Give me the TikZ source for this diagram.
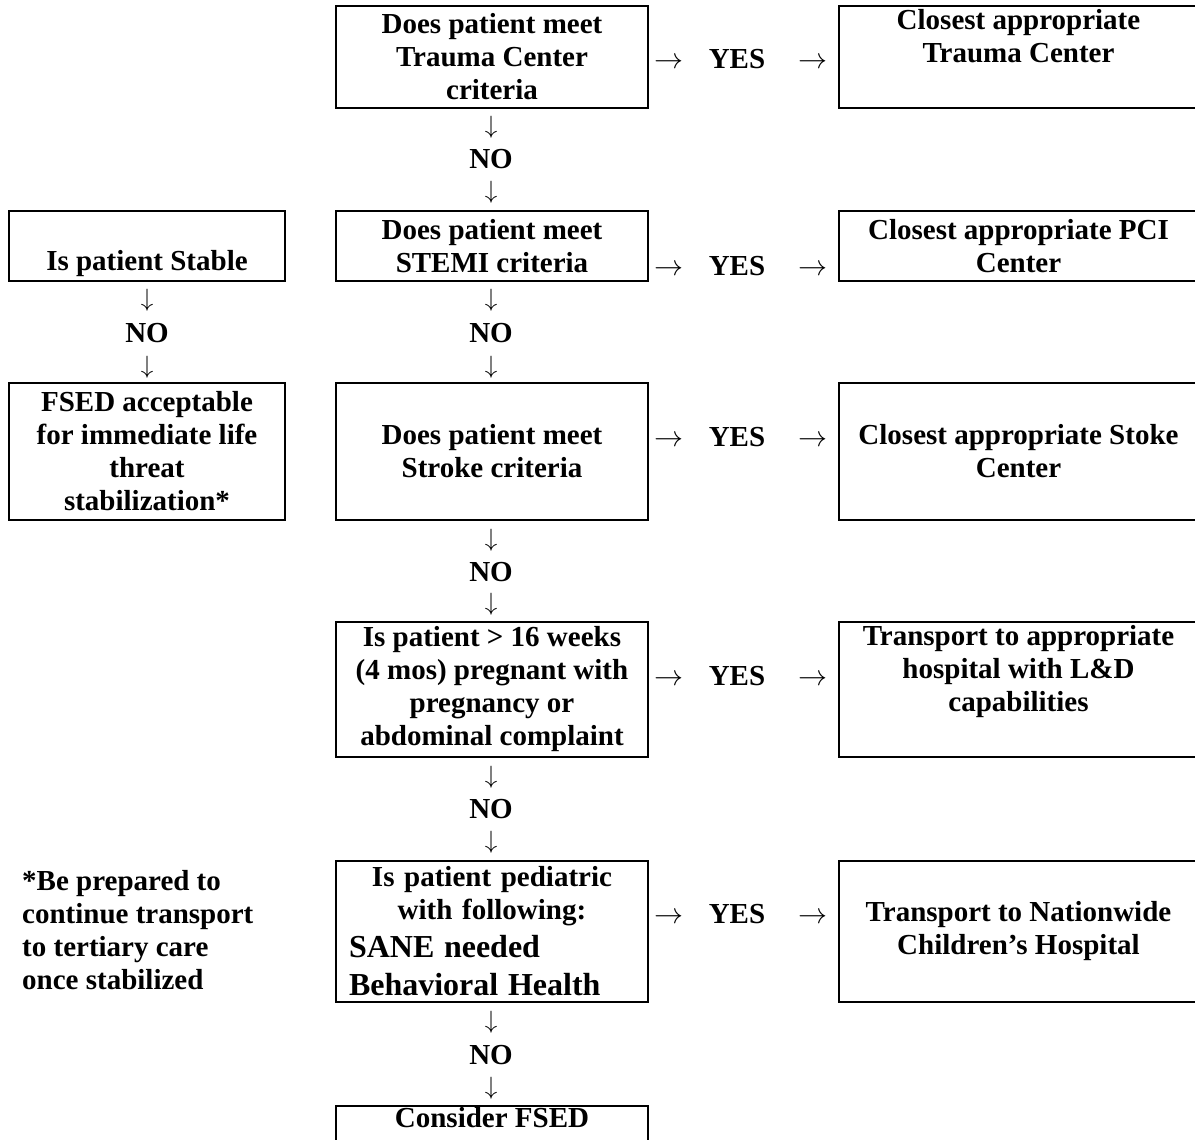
\RequirePackage{fix-cm}
\documentclass[tikz,border=0pt]{standalone}
\usepackage{fontspec}
\setmainfont{Liberation Serif}
\begin{document}
\begin{tikzpicture}[x=1pt,y=-1pt,
  every node/.style={font=\bfseries\fontsize{29}{33}\selectfont, inner sep=0pt},
  box/.style={draw, line width=2.2pt, align=center, rectangle},
  mbox/.style={box, minimum width=312pt},
  rbox/.style={box, minimum width=359pt},
  lbox/.style={box, minimum width=276pt},
  arr/.style={font=\mdseries\fontsize{29}{33}\selectfont, anchor=base},
  darr/.style={font=\mdseries\fontsize{25}{30}\selectfont},
  lbl/.style={anchor=base}
]
\useasboundingbox (0,0) rectangle (1195,1140);

% ---- boxes ----
\node[mbox, minimum height=102pt] (trauma) at (492,57) {Does patient meet\\Trauma Center\\criteria};
\node[rbox, minimum height=102pt] (rtrauma) at (1018.5,57) {Closest appropriate\\Trauma Center\\\strut};

\node[mbox, minimum height=70pt] (stemi) at (492,246) {Does patient meet\\STEMI criteria};
\node[rbox, minimum height=70pt] (rpci) at (1018.5,246) {Closest appropriate PCI\\Center};
\node[lbox, minimum height=70pt] (stable) at (147,246) {\strut\\Is patient Stable};

\node[lbox, minimum height=137pt] (fsed) at (147,451.5) {FSED acceptable\\for immediate life\\threat\\stabilization*};
\node[mbox, minimum height=137pt] (stroke) at (492,451.5) {Does patient meet\\Stroke criteria};
\node[rbox, minimum height=137pt] (rstroke) at (1018.5,451.5) {Closest appropriate Stoke\\Center};

\node[mbox, minimum height=135pt] (preg) at (492,689.5) {Is patient > 16 weeks\\(4 mos) pregnant with\\pregnancy or\\abdominal complaint};
\node[rbox, minimum height=135pt] (rpreg) at (1018.5,689.5) {Transport to appropriate\\hospital with L\&D\\capabilities\\\strut};

\node[mbox, minimum height=141pt, text width=286pt, align=left] (ped) at (492,931.5)
  {{\centering Is patient pediatric\\with following:\par}%
   {\fontsize{32}{38}\selectfont SANE needed\\Behavioral Health\par}};
\node[rbox, minimum height=141pt] (rped) at (1018.5,931.5) {Transport to Nationwide\\Children’s Hospital};

\node[mbox, minimum height=66pt] (consider) at (492,1139) {Consider FSED\\\strut};

% ---- footnote ----
\node[anchor=west, align=left] (note) at (22,930) {*Be prepared to\\continue transport\\to tertiary care\\once stabilized};

% ---- vertical flow (middle column) ----
\foreach \n/\a/\b/\c in {1/127/159/192, 2/300/333/367, 3/540/572/604, 4/777/809/842, 5/1022/1055/1088}{
  \node[darr] (dA\n) at (491,\a) {$\downarrow$};
  \node (no\n) at (491,\b) {NO};
  \node[darr] (dB\n) at (491,\c) {$\downarrow$};
}
% ---- vertical flow (left column) ----
\node[darr] (ldA) at (147,300) {$\downarrow$};
\node (lno) at (147,333) {NO};
\node[darr] (ldB) at (147,367) {$\downarrow$};

% ---- horizontal YES arrows ----
\foreach \n/\y in {1/69, 2/275, 3/446, 4/685, 5/923}{
  \node[lbl] (yes\n) at (737,\y) {YES};
  \node[arr] (ra\n) at (669,\y) {$\rightarrow$};
  \node[arr] (rb\n) at (813,\y) {$\rightarrow$};
}
\end{tikzpicture}
\end{document}
